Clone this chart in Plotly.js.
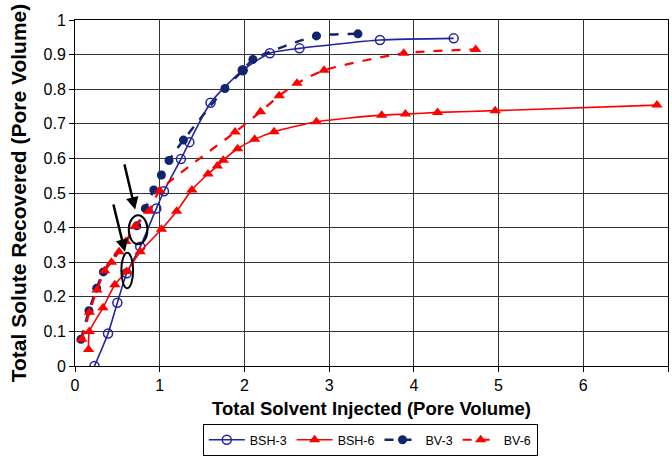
<!DOCTYPE html>
<html>
<head>
<meta charset="utf-8">
<script src="https://cdn.plot.ly/plotly-3.0.1.min.js"></script>
<style>html,body{margin:0;padding:0;background:#fff;}#chart{width:672px;height:460px;}</style>
</head>
<body>
<div id="chart"></div>
<script>
// Series names
const seriesNames = ["BSH-3", "BSH-6", "BV-3", "BV-6"];

// BSH-3 (open circles, solid)
const bsh3X = [0.23, 0.39, 0.50, 0.61, 0.77, 0.96, 1.05, 1.25, 1.35, 1.60, 1.98, 2.30, 2.65, 3.60, 4.47];
const bsh3Y = [0.00, 0.094, 0.183, 0.268, 0.345, 0.455, 0.505, 0.598, 0.647, 0.761, 0.855, 0.904, 0.918, 0.942, 0.947];

// BSH-6 (triangles, solid)
const bsh6X = [0.16, 0.17, 0.33, 0.47, 0.61, 0.77, 1.02, 1.20, 1.38, 1.57, 1.68, 1.75, 1.92, 2.12, 2.35, 2.85, 3.62, 3.90, 4.28, 4.96, 6.87];
const bsh6Y = [0.048, 0.100, 0.168, 0.235, 0.273, 0.330, 0.395, 0.447, 0.509, 0.555, 0.578, 0.595, 0.628, 0.655, 0.677, 0.706, 0.725, 0.728, 0.733, 0.738, 0.754];

// BV-3 (filled circles, dashed)
const bv3X = [0.07, 0.165, 0.256, 0.335, 0.73, 0.83, 0.93, 1.02, 1.11, 1.28, 1.77, 1.98, 2.10, 2.85, 3.34];
const bv3Y = [0.077, 0.160, 0.225, 0.272, 0.405, 0.455, 0.509, 0.552, 0.594, 0.653, 0.802, 0.854, 0.886, 0.954, 0.960];

// BV-6 (triangles, dashed)
const bv6X = [0.08, 0.17, 0.26, 0.35, 0.43, 0.52, 0.60, 0.71, 0.87, 1.00, 1.89, 2.19, 2.41, 2.62, 2.94, 3.88, 4.73];
const bv6Y = [0.077, 0.155, 0.220, 0.275, 0.300, 0.330, 0.360, 0.403, 0.447, 0.507, 0.676, 0.735, 0.781, 0.817, 0.855, 0.904, 0.915];

// Annotation marks (ellipses and arrows) in data units
const ellipses = [
  {x0: 0.547, x1: 0.686, y0: 0.225, y1: 0.327},
  {x0: 0.635, x1: 0.855, y0: 0.352, y1: 0.436}
];
const arrows = [
  {tipX: 0.59, tipY: 0.330, tailX: 0.449, tailY: 0.471},
  {tipX: 0.71, tipY: 0.452, tailX: 0.579, tailY: 0.587}
];

const FONT = "Liberation Sans, Arial, sans-serif";
const BLUE = "#2323a0";
const NAVY = "#10256e";
const RED = "#ff0000";

const traces = [
  {x: bsh3X, y: bsh3Y, name: seriesNames[0], type: "scatter", mode: "lines+markers",
   line: {color: BLUE, width: 1.6, shape: "spline", smoothing: 0.6},
   marker: {symbol: "circle-open", size: 9, color: BLUE, line: {width: 1.5, color: BLUE}}},
  {x: bsh6X, y: bsh6Y, name: seriesNames[1], type: "scatter", mode: "lines+markers",
   line: {color: RED, width: 1.6, shape: "spline", smoothing: 0.6},
   marker: {symbol: "triangle-up", size: 10, color: RED}},
  {x: bv3X, y: bv3Y, name: seriesNames[2], type: "scatter", mode: "lines+markers",
   line: {color: NAVY, width: 2.5, dash: "dash", shape: "spline", smoothing: 0.6},
   marker: {symbol: "circle", size: 9, color: NAVY}},
  {x: bv6X, y: bv6Y, name: seriesNames[3], type: "scatter", mode: "lines+markers",
   line: {color: RED, width: 2.2, dash: "dash", shape: "spline", smoothing: 0.6},
   marker: {symbol: "triangle-up", size: 10, color: RED}}
];

const shapes = ellipses.map(e => ({
  type: "circle", xref: "x", yref: "y", x0: e.x0, x1: e.x1, y0: e.y0, y1: e.y1,
  line: {color: "#000", width: 2}
}));

const annotations = arrows.map(a => ({
  x: a.tipX, y: a.tipY, ax: a.tailX, ay: a.tailY, xref: "x", yref: "y", axref: "x", ayref: "y",
  text: "", showarrow: true, arrowhead: 2, arrowsize: 1, arrowwidth: 2.5, arrowcolor: "#000"
}));

const layout = {
  width: 672, height: 460,
  margin: {l: 75, r: 4, t: 20, b: 94, autoexpand: false},
  paper_bgcolor: "#fff", plot_bgcolor: "#fff",
  font: {family: FONT, size: 16, color: "#000"},
  showlegend: true,
  legend: {orientation: "h", xref: "container", yref: "container", x: 0.551, xanchor: "center",
           y: 0.078, yanchor: "top",
           bordercolor: "#000", borderwidth: 1, font: {family: FONT, size: 12.5, color: "#000"},
           itemwidth: 36, tracegroupgap: 0},
  xaxis: {range: [0, 7], dtick: 1, tick0: 0, showgrid: true, gridcolor: "#333", gridwidth: 1,
          zeroline: false, showline: true, linecolor: "#000", linewidth: 1, mirror: true,
          ticks: "outside", ticklen: 5, tickcolor: "#000", automargin: false,
          tickfont: {family: FONT, size: 16, color: "#000"},
          title: {text: "<b>Total Solvent Injected (Pore Volume)</b>", font: {family: FONT, size: 18.5, color: "#000"}, standoff: 8}},
  yaxis: {range: [0, 1], dtick: 0.1, tick0: 0, showgrid: true, gridcolor: "#333", gridwidth: 1,
          zeroline: false, showline: true, linecolor: "#000", linewidth: 1, mirror: true,
          ticks: "outside", ticklen: 5, tickcolor: "#000", automargin: false,
          tickfont: {family: FONT, size: 16, color: "#000"},
          title: {text: "<b>Total Solute Recovered (Pore Volume)</b>", font: {family: FONT, size: 21, color: "#000"}, standoff: 11}},
  shapes: shapes,
  annotations: annotations
};

Plotly.newPlot("chart", traces, layout, {displayModeBar: false, staticPlot: true});
</script>
</body>
</html>
